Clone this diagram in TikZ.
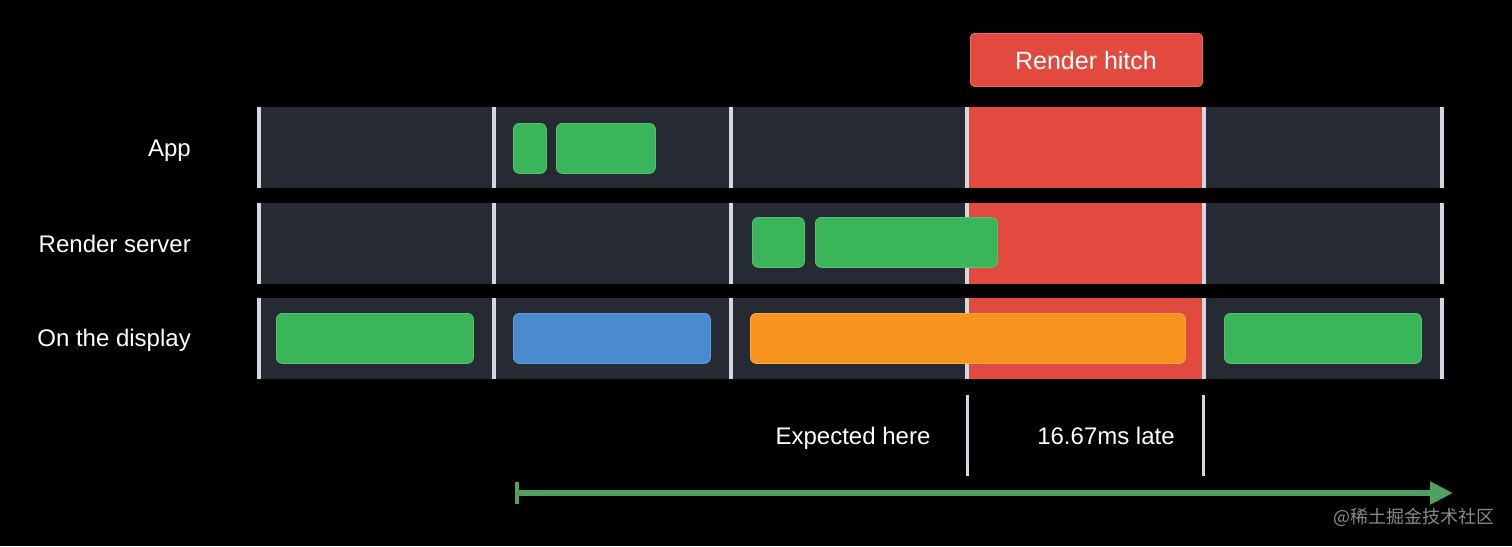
\documentclass[tikz,border=0pt]{standalone}
\usepackage{fontspec}
\setmainfont{Liberation Sans}
\newfontfamily\cjk{Noto Sans CJK SC}
\usetikzlibrary{arrows.meta}
\definecolor{rowbg}{HTML}{262B33}
\definecolor{divc}{HTML}{D3D7DF}
\definecolor{gr}{HTML}{3BB55A}
\definecolor{grl}{HTML}{55C271}
\definecolor{bl}{HTML}{4A8BD0}
\definecolor{bll}{HTML}{639DDB}
\definecolor{orc}{HTML}{F7941F}
\definecolor{orl}{HTML}{FAA848}
\definecolor{hitch}{HTML}{E24A40}
\definecolor{hitchl}{HTML}{EC6A60}
\definecolor{arrowg}{HTML}{529F62}
\definecolor{wm}{HTML}{8A8A8A}
\tikzset{
  rowbox/.style={fill=rowbg, anchor=north west, inner sep=0pt, minimum width=1186pt, minimum height=81pt},
  hitchband/.style={fill=hitch, anchor=north west, inner sep=0pt, minimum width=237pt, minimum height=81pt},
  blk/.style={anchor=north west, inner sep=0pt, rounded corners=6pt, line width=0.8pt, minimum height=50pt},
  greenblk/.style={blk, fill=gr, draw=grl},
  blueblk/.style={blk, fill=bl, draw=bll},
  orangeblk/.style={blk, fill=orc, draw=orl},
  divider/.style={draw=divc, line width=4pt},
  rowlabel/.style={anchor=base east, text=white, font=\fontsize{24}{28}\selectfont, inner sep=0pt},
  notelabel/.style={anchor=base, text=white, font=\fontsize{24}{28}\selectfont, inner sep=0pt},
  marker/.style={draw=divc, line width=3pt},
}
\begin{document}
\begin{tikzpicture}[x=1pt,y=-1pt]
\fill[black] (0,0) rectangle (1512,546);
\useasboundingbox (0,0) rectangle (1512,546);

% rows
\node[rowbox] (row1) at (257,107) {};
\node[rowbox] (row2) at (257,203) {};
\node[rowbox] (row3) at (257,298) {};

% hitch band
\node[hitchband] (h1) at (967,107) {};
\node[hitchband] (h2) at (967,203) {};
\node[hitchband] (h3) at (967,298) {};

% dividers
\foreach \x in {258.5,494,730.5,967,1203.5,1441.5}{
  \draw[divider] (\x,107) -- (\x,188);
  \draw[divider] (\x,203) -- (\x,284);
  \draw[divider] (\x,298) -- (\x,379);
}

% hitch label
\node[fill=hitch, draw=hitchl, line width=0.8pt, rounded corners=4pt, anchor=north west, inner sep=0pt,
      minimum width=232pt, minimum height=53pt] (hl) at (970,33) {};
\node[anchor=base, text=white, font=\fontsize{25}{29}\selectfont, inner sep=0pt] (hlt) at (1086,69) {Render hitch};

% App blocks
\node[greenblk, minimum width=33pt] (a1) at (513,123) {};
\node[greenblk, minimum width=99pt] (a2) at (556,123) {};

% Render server blocks
\node[greenblk, minimum width=52pt] (r1) at (752,217) {};
\node[greenblk, minimum width=182pt] (r2) at (815,217) {};

% Display blocks
\node[greenblk, minimum width=197pt] (d1) at (276,313) {};
\node[blueblk, minimum width=197pt] (d2) at (513,313) {};
\node[orangeblk, minimum width=435pt] (d3) at (750,313) {};
\node[greenblk, minimum width=197pt] (d4) at (1224,313) {};

% row labels
\node[rowlabel] (lapp) at (191,156) {App};
\node[rowlabel] (lrs) at (191,252) {Render server};
\node[rowlabel] (ldisp) at (191,346) {On the display};

% markers and notes
\coordinate (m1t) at (967,395); \coordinate (m1b) at (967,476);
\coordinate (m2t) at (1203,395); \coordinate (m2b) at (1203,476);
\draw[marker] (m1t) -- (m1b);
\draw[marker] (m2t) -- (m2b);
\node[notelabel] (exp) at (853,444) {Expected here};
\node[notelabel] (late) at (1106,444) {16.67ms late};

% timeline arrow
\coordinate (ts) at (515,493);
\coordinate (te) at (1453,493);
\draw[draw=arrowg, line width=5.5pt, {Bar[width=22pt,line width=4pt]}-{Triangle[length=23pt,width=22pt]}] (ts) -- (te);

% watermark
\node[text=wm, font=\cjk\fontsize{18}{21}\selectfont, anchor=base east, inner sep=0pt] (wmk) at (1495,523) {@稀土掘金技术社区};
\end{tikzpicture}
\end{document}
